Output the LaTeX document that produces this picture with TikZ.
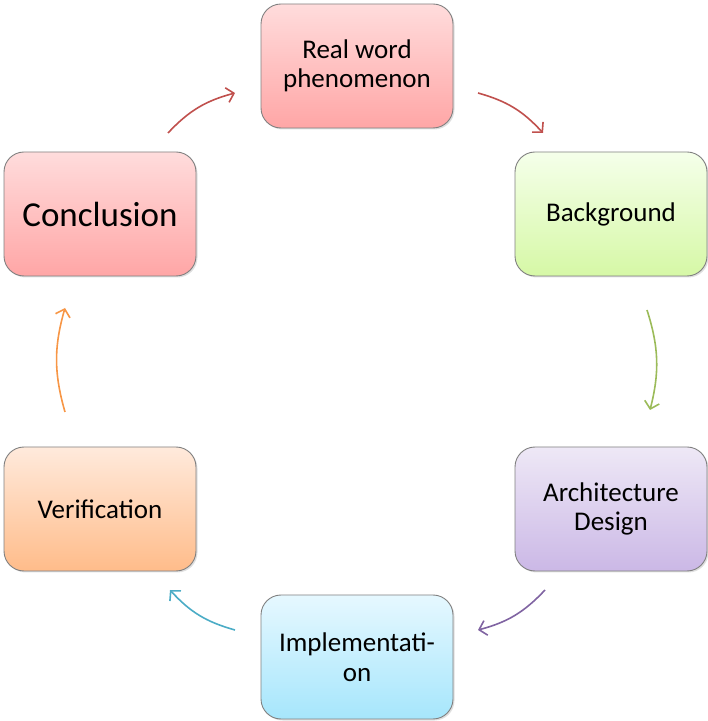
\documentclass[tikz,border=0pt]{standalone}
\usepackage{fontspec}
\setmainfont{Carlito}
\usetikzlibrary{arrows.meta,shadows}
\definecolor{redtop}{HTML}{FFDCDC}\definecolor{redbot}{HTML}{FFA6A6}
\definecolor{grntop}{HTML}{F5FFEA}\definecolor{grnbot}{HTML}{D6F8A6}
\definecolor{purtop}{HTML}{EEE8F6}\definecolor{purbot}{HTML}{CBB8E6}
\definecolor{cyntop}{HTML}{E6F8FF}\definecolor{cynbot}{HTML}{A6E6FC}
\definecolor{orgtop}{HTML}{FFEADC}\definecolor{orgbot}{HTML}{FFBC8A}
\definecolor{ared}{HTML}{C0504D}\definecolor{agrn}{HTML}{9BBB59}
\definecolor{apur}{HTML}{8064A2}\definecolor{acyn}{HTML}{4BACC6}
\definecolor{aorg}{HTML}{F79646}
\tikzset{
  x=1pt,y=1pt,
  box/.style={draw=black!50,line width=0.9pt,rounded corners=20pt,
    minimum width=192pt,minimum height=124pt,align=center,
    font=\fontsize{27}{29.5}\selectfont,text=black,
    drop shadow={shadow xshift=1.5pt,shadow yshift=-1.5pt,opacity=0.25}},
  cyc/.style={line width=1.6pt,bend left=16,
    -{Straight Barb[length=7pt,width=15pt,line width=1.6pt]}}
}
\begin{document}
\begin{tikzpicture}
\useasboundingbox (0,0) rectangle (708,721);
\node[box,top color=redtop,bottom color=redbot] (real) at (357,655) {Real word\\phenomenon};
\node[box,top color=grntop,bottom color=grnbot] (back) at (611,507) {Background};
\node[box,top color=purtop,bottom color=purbot] (arch) at (611,212) {Architecture\\Design};
\node[box,top color=cyntop,bottom color=cynbot] (impl) at (357,64) {Implementati-\\on};
\node[box,top color=orgtop,bottom color=orgbot] (veri) at (100,212) {Verification};
\node[box,top color=redtop,bottom color=redbot,font=\fontsize{35}{40}\selectfont] (conc) at (100,507) {Conclusion};
\coordinate (a1) at (168,588); \coordinate (b1) at (235,628);
\coordinate (a2) at (478,628); \coordinate (b2) at (543,588);
\coordinate (a3) at (647,411); \coordinate (b3) at (650,311);
\coordinate (a4) at (545,131); \coordinate (b4) at (478,91);
\coordinate (a5) at (235,91); \coordinate (b5) at (170,131);
\coordinate (a6) at (65,309); \coordinate (b6) at (65,413);
\draw[cyc,ared] (a1) to (b1);
\draw[cyc,ared] (a2) to (b2);
\draw[cyc,agrn] (a3) to (b3);
\draw[cyc,apur] (a4) to (b4);
\draw[cyc,acyn] (a5) to (b5);
\draw[cyc,aorg] (a6) to (b6);
\end{tikzpicture}
\end{document}
